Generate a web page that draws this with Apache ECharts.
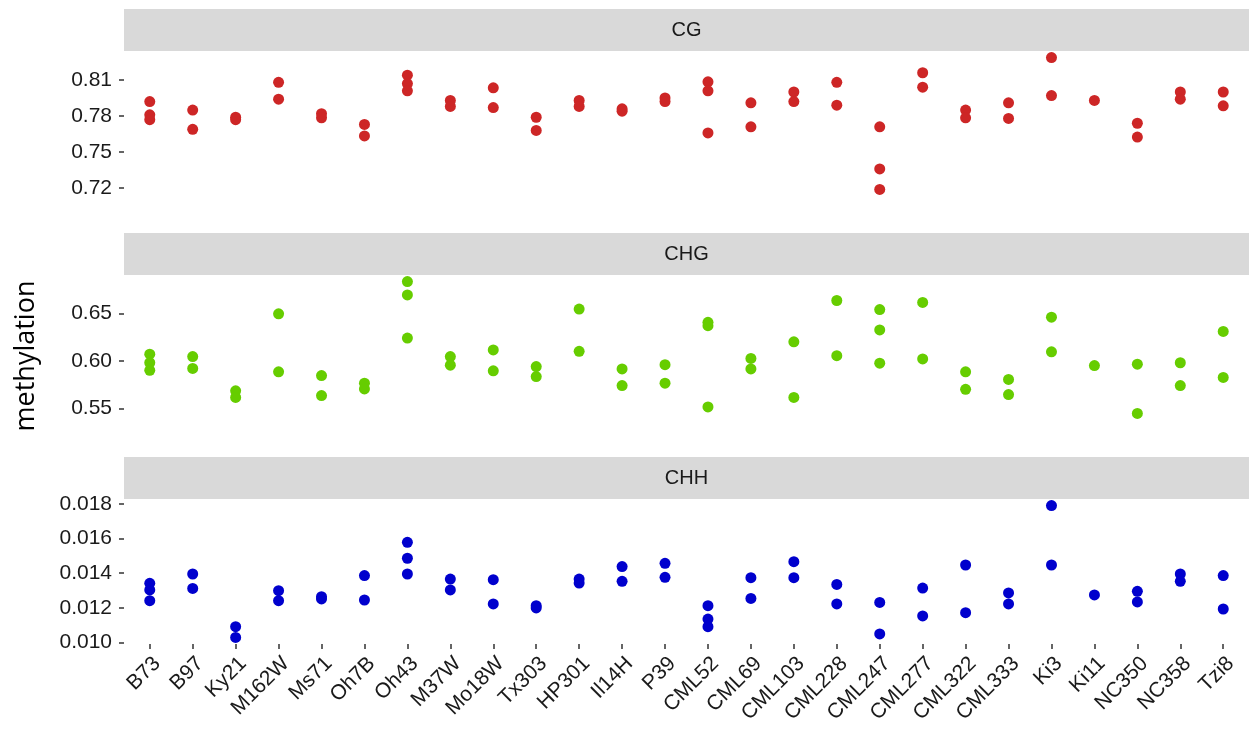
<!DOCTYPE html>
<html>
<head>
<meta charset="utf-8">
<script src="https://cdn.jsdelivr.net/npm/echarts@6/dist/echarts.min.js"></script>
<style>
  html, body { margin: 0; padding: 0; background: #ffffff; }
  #chart { width: 1251px; height: 732px; }
</style>
</head>
<body>
<div id="chart"></div>
<script>
// Genotypes along the x axis
const genotypes = ['B73','B97','Ky21','M162W','Ms71','Oh7B','Oh43','M37W','Mo18W','Tx303',
  'HP301','Il14H','P39','CML52','CML69','CML103','CML228','CML247','CML277','CML322',
  'CML333','Ki3','Ki11','NC350','NC358','Tzi8'];

// Methylation level per replicate, one list per genotype
const cgValues = [
  [0.792,0.781,0.777],[0.785,0.769],[0.779,0.777],[0.808,0.794],[0.782,0.7785],
  [0.773,0.7635],[0.814,0.807,0.801],[0.793,0.788],[0.8035,0.787],[0.779,0.768],
  [0.793,0.788],[0.786,0.784],[0.795,0.792],[0.8085,0.801,0.766],[0.791,0.771],
  [0.800,0.792],[0.808,0.789],[0.771,0.736,0.719],[0.816,0.804],[0.785,0.7785],
  [0.791,0.778],[0.8286,0.797],[0.793],[0.774,0.7625],[0.800,0.794],[0.800,0.7885]
];
const chgValues = [
  [0.607,0.598,0.590],[0.6045,0.592],[0.5685,0.5615],[0.6495,0.5885],[0.5845,0.5635],
  [0.5765,0.5705],[0.6834,0.6694,0.624],[0.6045,0.5955],[0.6115,0.5895],[0.594,0.5835],
  [0.6545,0.610],[0.5915,0.574],[0.596,0.5765],[0.6405,0.637,0.5515],[0.6025,0.5915],
  [0.620,0.5615],[0.6635,0.6055],[0.654,0.6325,0.5975],[0.6615,0.602],[0.5885,0.570],
  [0.5805,0.5645],[0.646,0.6095],[0.595],[0.5965,0.5447],[0.598,0.574],[0.631,0.5825]
];
const chhValues = [
  [0.01341,0.01303,0.01241],[0.01395,0.01312],[0.01091,0.01029],[0.01299,0.01241],[0.01264,0.01251],
  [0.01386,0.01245],[0.01578,0.01486,0.01395],[0.01366,0.01303],[0.01362,0.01222],[0.01212,0.01199],
  [0.01366,0.01343],[0.01438,0.01353],[0.01457,0.01376],[0.01212,0.01135,0.01091],[0.01374,0.01254],
  [0.01466,0.01374],[0.01335,0.01222],[0.01231,0.01049],[0.01314,0.01153],[0.01447,0.01172],
  [0.01286,0.01222],[0.0179,0.01447],[0.01274],[0.01295,0.01234],[0.01395,0.01353],[0.01386,0.01193]
];

// Y tick values per panel
const cgTicks = [0.72, 0.75, 0.78, 0.81];
const chgTicks = [0.55, 0.60, 0.65];
const chhTicks = [0.010, 0.012, 0.014, 0.016, 0.018];

const panels = [
  { name: 'CG',  values: cgValues,  ticks: cgTicks,  digits: 2, color: '#CD2626' },
  { name: 'CHG', values: chgValues, ticks: chgTicks, digits: 2, color: '#66CD00' },
  { name: 'CHH', values: chhValues, ticks: chhTicks, digits: 3, color: '#0000CD' }
];

// Layout of the stacked facets
const PANEL_LEFT = 124, PANEL_RIGHT = 1249;
const STRIP_TOP = 9, STRIP_H = 42, PANEL_H = 145, PANEL_GAP = 37;
const nCat = genotypes.length;
const unit = (PANEL_RIGHT - PANEL_LEFT) / (nCat - 1 + 1.2);
const gridLeft = PANEL_LEFT + 0.1 * unit;
const gridWidth = nCat * unit;
const FONT = '"Liberation Sans", Arial, Helvetica, sans-serif';
const TEXT = '#1a1a1a';

const grids = [], xAxes = [], yAxes = [], series = [], graphics = [];

panels.forEach((p, i) => {
  const stripTop = STRIP_TOP + i * (STRIP_H + PANEL_H + PANEL_GAP);
  const panelTop = stripTop + STRIP_H;
  const isLast = i === panels.length - 1;

  grids.push({ left: gridLeft, top: panelTop, width: gridWidth, height: PANEL_H, outerBoundsMode: 'none' });

  xAxes.push({
    type: 'category', gridIndex: i, data: genotypes, boundaryGap: true,
    axisLine: { show: false },
    axisTick: { show: isLast, alignWithLabel: true, length: 5, lineStyle: { color: '#333333', width: 1.5 } },
    axisLabel: {
      show: isLast, interval: 0, rotate: 45, align: 'right', verticalAlign: 'top',
      margin: 9, fontSize: 21, fontFamily: FONT, color: TEXT
    },
    splitLine: { show: false }
  });

  yAxes.push({
    type: 'value', gridIndex: i,
    min: v => v.min - (v.max - v.min) * 0.05,
    max: v => v.max + (v.max - v.min) * 0.05,
    offset: gridLeft - PANEL_LEFT,
    axisLine: { show: false },
    axisTick: { show: true, length: 5, customValues: p.ticks, lineStyle: { color: '#333333', width: 1.5 } },
    axisLabel: {
      customValues: p.ticks, margin: 12, fontSize: 21, fontFamily: FONT, color: TEXT,
      formatter: v => v.toFixed(p.digits)
    },
    splitLine: { show: false }
  });

  const data = [];
  p.values.forEach((vals, ci) => vals.forEach(v => data.push([genotypes[ci], v])));
  series.push({
    type: 'scatter', xAxisIndex: i, yAxisIndex: i, data: data,
    symbol: 'circle', symbolSize: 11,
    itemStyle: { color: p.color, opacity: 1 },
    emphasis: { disabled: true }, animation: false
  });

  // facet strip
  graphics.push({
    type: 'rect', silent: true,
    shape: { x: PANEL_LEFT, y: stripTop, width: PANEL_RIGHT - PANEL_LEFT, height: STRIP_H },
    style: { fill: '#D9D9D9' }
  });
  graphics.push({
    type: 'text', silent: true,
    x: (PANEL_LEFT + PANEL_RIGHT) / 2, y: stripTop + STRIP_H / 2,
    style: { text: p.name, fill: TEXT, font: '20px ' + FONT, align: 'center', verticalAlign: 'middle' }
  });
});

// shared y-axis title
graphics.push({
  type: 'text', silent: true, x: 26, y: 356, rotation: Math.PI / 2,
  style: { text: 'methylation', fill: '#000000', font: '27px "Open Sans", sans-serif', align: 'center', verticalAlign: 'middle' }
});

const chart = echarts.init(document.getElementById('chart'), null, { renderer: 'canvas' });
chart.setOption({
  backgroundColor: '#ffffff',
  animation: false,
  grid: grids, xAxis: xAxes, yAxis: yAxes, series: series,
  graphic: { elements: graphics }
});
</script>
</body>
</html>
